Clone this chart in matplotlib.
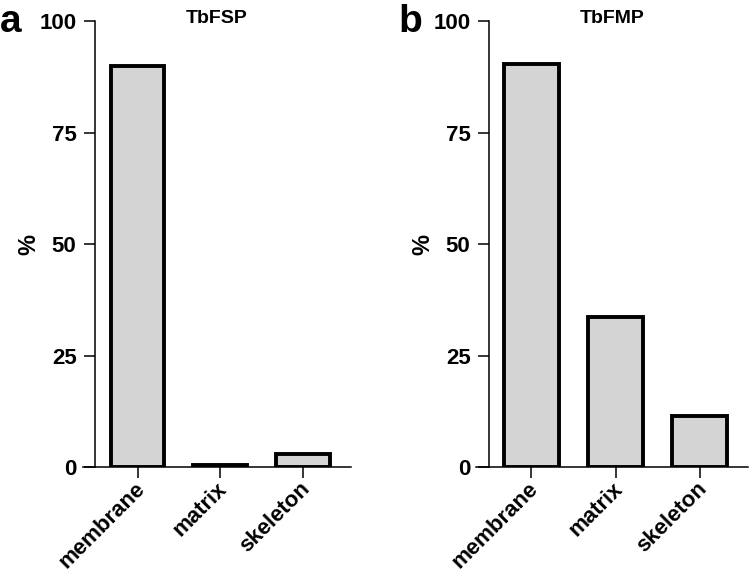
import matplotlib.pyplot as plt
from matplotlib.transforms import ScaledTranslation

plt.rcParams['font.family'] = ['Liberation Sans', 'DejaVu Sans']
plt.rcParams['font.weight'] = 'bold'

categories = ['membrane', 'matrix', 'skeleton']
fsp_values = [90.0, 0.5, 3.0]
fmp_values = [90.5, 33.6, 11.5]
yticks = [0, 25, 50, 75, 100]

panels = [
    ('a', 'TbFSP', fsp_values, [0.1107, 0.185, 0.357, 0.778], -0.52, 0.0),
    ('b', 'TbFMP', fmp_values, [0.6347, 0.185, 0.363, 0.778], -0.51, 0.531),
]

fig = plt.figure(figsize=(7.5, 5.73), dpi=100)
shift = ScaledTranslation(4 / 100, -2 / 100, fig.dpi_scale_trans)

for letter, title, values, rect, spine_x, letter_x in panels:
    ax = fig.add_axes(rect)
    x = list(range(len(categories)))
    ax.bar(x, values, width=0.65, color='#d4d4d4', edgecolor='black',
           linewidth=2.8, zorder=3)
    ax.set_xlim(-0.66, 2.58)
    ax.set_ylim(0, 100)
    ax.spines['top'].set_visible(False)
    ax.spines['right'].set_visible(False)
    ax.spines['left'].set_position(('data', spine_x))
    for s in ('left', 'bottom'):
        ax.spines[s].set_linewidth(1.1)
    ax.tick_params(axis='both', length=8, width=1.1)
    ax.tick_params(axis='y', pad=5)
    ax.tick_params(axis='x', pad=4)
    ax.set_yticks(yticks)
    ax.set_yticklabels([str(t) for t in yticks])
    ax.set_xticks(x)
    ax.set_xticklabels(categories, rotation=45, ha='right', va='center',
                       rotation_mode='anchor')
    for lab in ax.get_xticklabels():
        lab.set_transform(lab.get_transform() + shift)
    for lab in ax.get_xticklabels() + ax.get_yticklabels():
        lab.set_fontsize(16)
        lab.set_fontweight('bold')
    ax.set_ylabel('%', fontsize=17, fontweight='bold', labelpad=-1)
    ax.text(0.5, 1.007, title, transform=ax.transAxes, ha='center',
            va='center', fontsize=14, fontweight='bold')
    fig.text(letter_x, 0.945, letter, fontsize=28, fontweight='bold',
             ha='left', va='baseline')

fig.savefig('out.png', dpi=100)
